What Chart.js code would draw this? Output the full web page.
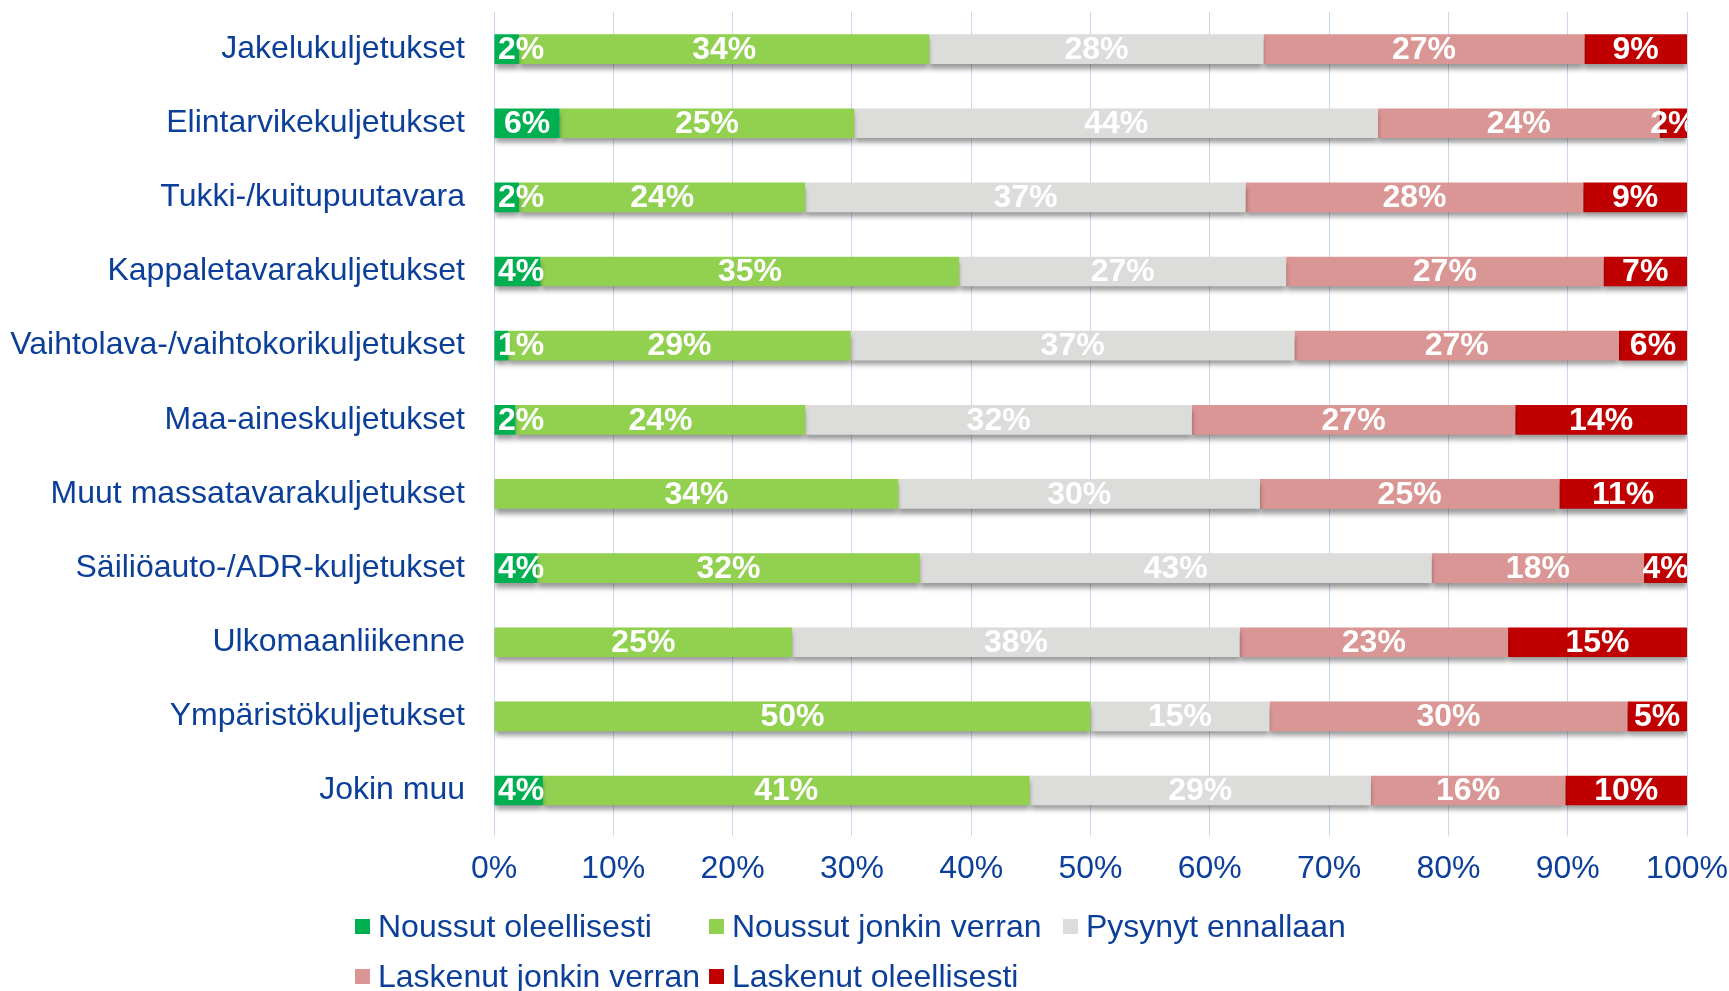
<!DOCTYPE html>
<html>
<head>
<meta charset="utf-8">
<script src="https://cdn.jsdelivr.net/npm/chart.js@4"></script>
<style>
  body { margin: 0; background: #fff; }
  #wrap { position: relative; width: 1729px; height: 991px; }
  #legend {
    position: absolute; left: 355px; top: 901px;
    display: grid; grid-template-columns: 354px 354px 354px;
    font-family: 'Liberation Sans', Arial, sans-serif; font-size: 32px; color: #0c3f99;
  }
  #legend .item { height: 50px; line-height: 50px; white-space: nowrap; }
  #legend .box { display: inline-block; width: 15px; height: 15px; margin-right: 8px; vertical-align: middle; position: relative; top: -2px; }
</style>
</head>
<body>
<div id="wrap">
  <canvas id="chart" width="1729" height="991"></canvas>
  <div id="legend"></div>
</div>
<script>
// categories (top to bottom)
const categories = [
    'Jakelukuljetukset',
    'Elintarvikekuljetukset',
    'Tukki-/kuitupuutavara',
    'Kappaletavarakuljetukset',
    'Vaihtolava-/vaihtokorikuljetukset',
    'Maa-aineskuljetukset',
    'Muut massatavarakuljetukset',
    'Säiliöauto-/ADR-kuljetukset',
    'Ulkomaanliikenne',
    'Ympäristökuljetukset',
    'Jokin muu'
];

const seriesNames = [
    'Noussut oleellisesti',
    'Noussut jonkin verran',
    'Pysynyt ennallaan',
    'Laskenut jonkin verran',
    'Laskenut oleellisesti'
];

// shares in percent
const noussutOleellisesti = [2.1, 5.5, 2.1, 3.9, 1.2, 1.8, 0, 3.6, 0, 0, 4.1];
const noussutJonkin = [34.4, 24.7, 24.0, 35.1, 28.7, 24.3, 33.9, 32.1, 25.0, 50.0, 40.8];
const pysynyt = [28.0, 43.9, 36.9, 27.4, 37.2, 32.4, 30.3, 42.9, 37.5, 15.0, 28.6];
const laskenutJonkin = [26.9, 23.6, 28.3, 26.6, 27.2, 27.1, 25.1, 17.8, 22.5, 30.0, 16.3];
const laskenutOleellisesti = [8.6, 2.3, 8.7, 7.0, 5.7, 14.4, 10.7, 3.6, 15.0, 5.0, 10.2];

const xTicks = [0, 10, 20, 30, 40, 50, 60, 70, 80, 90, 100];

const colors = ['#00b050', '#92d050', '#dcdcda', '#da9694', '#c00000'];
const textBlue = '#0c3f99';
const fontFamily = "'Liberation Sans', Arial, sans-serif";

const seriesData = [noussutOleellisesti, noussutJonkin, pysynyt, laskenutJonkin, laskenutOleellisesti];

// drop shadow under each bar segment
const shadowPlugin = {
    id: 'barShadow',
    beforeDatasetDraw(chart) {
        const ctx = chart.ctx;
        ctx.save();
        ctx.shadowColor = 'rgba(0,0,0,0.4)';
        ctx.shadowBlur = 5;
        ctx.shadowOffsetY = 5;
        ctx.shadowOffsetX = 0;
    },
    afterDatasetDraw(chart) {
        chart.ctx.restore();
    }
};

// white percent labels inside the segments
const valueLabels = {
    id: 'valueLabels',
    afterDatasetsDraw(chart) {
        const ctx = chart.ctx;
        const area = chart.chartArea;
        ctx.save();
        ctx.beginPath();
        ctx.rect(area.left, area.top, area.right - area.left, area.bottom - area.top);
        ctx.clip();
        ctx.font = 'bold 32px ' + fontFamily;
        ctx.fillStyle = '#ffffff';
        ctx.textBaseline = 'middle';
        ctx.textAlign = 'left';
        chart.data.datasets.forEach((ds, i) => {
            const meta = chart.getDatasetMeta(i);
            meta.data.forEach((bar, j) => {
                const v = ds.data[j];
                if (!v) return;
                const text = Math.round(v) + '%';
                const w = ctx.measureText(text).width;
                let x = (bar.x + bar.base) / 2 - w / 2;
                if (x < area.left + 4) x = area.left + 4;
                ctx.fillText(text, x, bar.y + 1);
            });
        });
        ctx.restore();
    }
};

new Chart(document.getElementById('chart'), {
    type: 'bar',
    data: {
        labels: categories,
        datasets: seriesData.map((d, i) => ({
            label: seriesNames[i],
            data: d,
            backgroundColor: colors[i],
            borderWidth: 0,
            barPercentage: 0.4,
            categoryPercentage: 1.0
        }))
    },
    options: {
        indexAxis: 'y',
        responsive: false,
        animation: false,
        layout: {
            padding: { left: 10, right: 42, top: 12, bottom: 89 }
        },
        plugins: {
            legend: { display: false },
            tooltip: { enabled: false }
        },
        scales: {
            x: {
                stacked: true,
                min: 0,
                max: 100,
                afterBuildTicks(axis) {
                    axis.ticks = xTicks.map(v => ({ value: v }));
                },
                afterFit(axis) {
                    axis.paddingLeft = 0;
                    axis.paddingRight = 0;
                },
                grid: {
                    color: '#c6d9f1',
                    lineWidth: 1,
                    drawTicks: true,
                    tickLength: 8
                },
                border: { display: false },
                ticks: {
                    padding: 14,
                    color: textBlue,
                    font: { family: fontFamily, size: 32 },
                    callback: v => v + '%'
                }
            },
            y: {
                stacked: true,
                grid: { display: false, drawTicks: false },
                border: { display: false },
                afterFit(axis) {
                    axis.paddingTop = 0;
                    axis.paddingBottom = 0;
                    axis.width = 484;
                },
                ticks: {
                    padding: 29,
                    color: textBlue,
                    font: { family: fontFamily, size: 32 }
                }
            }
        }
    },
    plugins: [shadowPlugin, valueLabels]
});

// legend: Excel style fixed columns
const legendEl = document.getElementById('legend');
seriesNames.forEach((name, i) => {
    const item = document.createElement('div');
    item.className = 'item';
    item.innerHTML = '<span class="box" style="background:' + colors[i] + '"></span>' + name;
    legendEl.appendChild(item);
});
</script>
</body>
</html>
